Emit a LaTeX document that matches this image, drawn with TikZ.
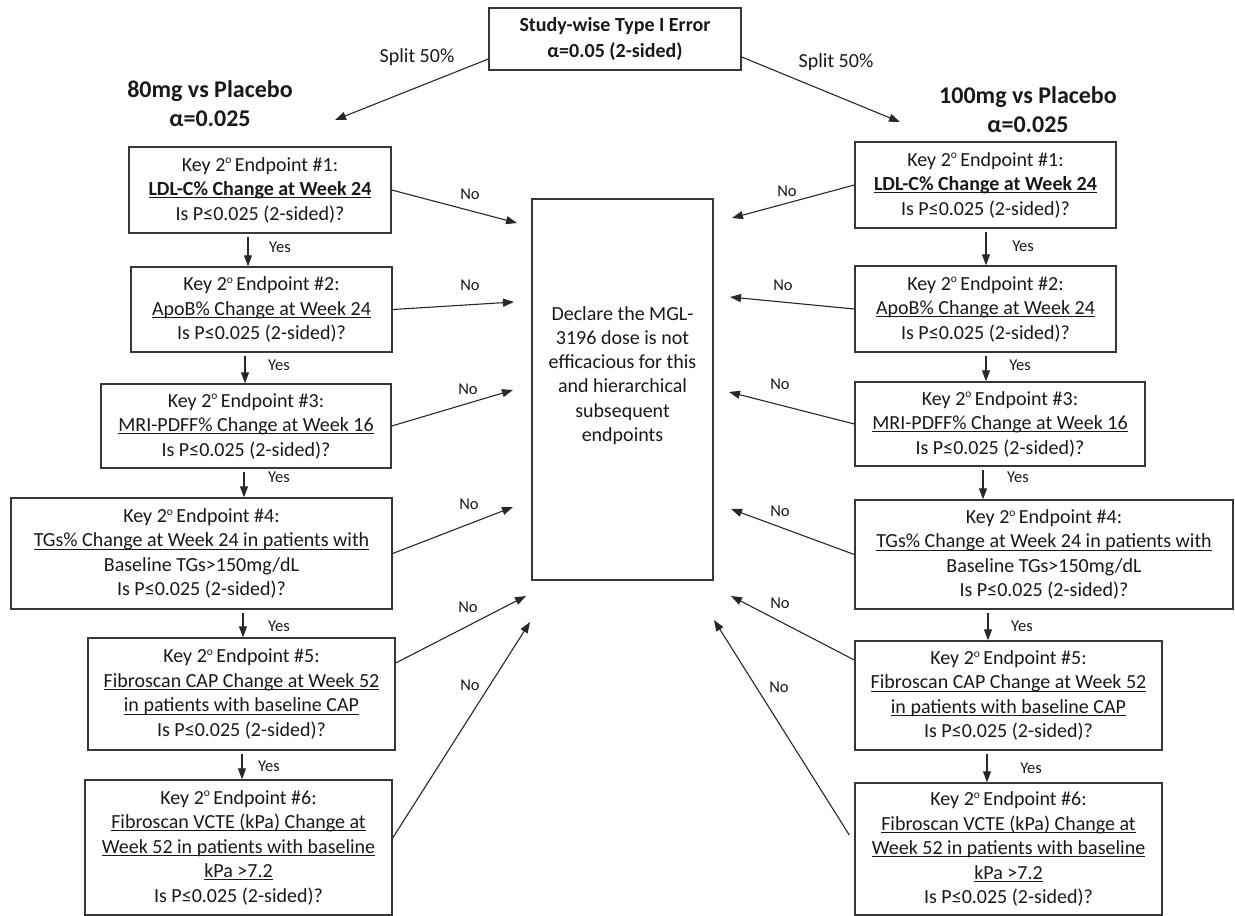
\documentclass[tikz,border=0pt]{standalone}
\usepackage{fontspec}
\setmainfont{Carlito}
\usetikzlibrary{arrows.meta,calc}
\definecolor{boxc}{RGB}{55,55,55}
\definecolor{txt}{RGB}{25,25,25}
\definecolor{arrc}{RGB}{40,40,40}
\tikzset{
  box/.style={draw=boxc, line width=1.4pt, align=center, inner sep=0pt, text=txt,
              font=\fontsize{20}{24.5}\selectfont},
  hdr/.style={align=center, inner sep=0pt, text=txt, font=\bfseries\fontsize{24}{29}\selectfont},
  lbl/.style={inner sep=0pt, text=txt, font=\fontsize{16.5}{19}\selectfont},
  split/.style={inner sep=0pt, text=txt, font=\fontsize{20}{24}\selectfont},
  arr/.style={draw=arrc, line width=1.1pt, -{Triangle[length=11pt,width=8pt]}},
}
\newcommand{\kk}[1]{Key 2\raisebox{7.2pt}{\fontsize{11.5}{11.5}\selectfont o}\,Endpoint \##1:}
\newcommand{\pq}{Is P≤0.025 (2-sided)?}
\newcommand{\ulx}[1]{\setbox0\hbox{#1}\rlap{\rule[-2.8pt]{\wd0}{1.1pt}}\box0}
\begin{document}
\begin{tikzpicture}[x=1pt,y=-1pt]
\useasboundingbox (0,0) rectangle (1235,916);

% top
\node[box, minimum width=252, minimum height=62, font=\bfseries\fontsize{20}{26}\selectfont] (top) at (615,39)
  {Study-wise Type I Error\\α=0.05 (2-sided)};
\node[split] (sl) at (417,57) {Split 50\%};
\node[split] (sr) at (836,62) {Split 50\%};
\node[hdr] (hl) at (210,104) {80mg vs Placebo\\α=0.025};
\node[hdr] (hr) at (1028,110) {100mg vs Placebo\\α=0.025};

% left column
\node[box, minimum width=262, minimum height=86] (L1) at (260,190)
  {\kk{1}\\\ulx{\textbf{LDL-C\% Change at Week 24}}\\\pq};
\node[box, minimum width=261, minimum height=85] (L2) at (261.5,309.5)
  {\kk{2}\\\ulx{ApoB\% Change at Week 24}\\\pq};
\node[box, minimum width=290, minimum height=84] (L3) at (246,426)
  {\kk{3}\\\ulx{MRI-PDFF\% Change at Week 16}\\\pq};
\node[box, minimum width=381, minimum height=111] (L4) at (201.5,553.5)
  {\kk{4}\\\ulx{TGs\% Change at Week 24 in patients with}\\Baseline TGs>150mg/dL\\\pq};
\node[box, minimum width=307, minimum height=112] (L5) at (241.5,694)
  {\kk{5}\\\ulx{Fibroscan CAP Change at Week 52}\\\ulx{in patients with baseline CAP}\\\pq};
\node[box, minimum width=307, minimum height=135] (L6) at (238.5,847.5)
  {\kk{6}\\\ulx{Fibroscan VCTE (kPa) Change at}\\\ulx{Week 52 in patients with baseline}\\\ulx{kPa >7.2}\\\pq};

% right column
\node[box, minimum width=261, minimum height=86] (R1) at (985.5,185)
  {\kk{1}\\\ulx{\textbf{LDL-C\% Change at Week 24}}\\\pq};
\node[box, minimum width=261, minimum height=86] (R2) at (985.5,309)
  {\kk{2}\\\ulx{ApoB\% Change at Week 24}\\\pq};
\node[box, minimum width=290, minimum height=84] (R3) at (1000,424)
  {\kk{3}\\\ulx{MRI-PDFF\% Change at Week 16}\\\pq};
\node[box, minimum width=378, minimum height=109] (R4) at (1044,554.5)
  {\kk{4}\\\ulx{TGs\% Change at Week 24 in patients with}\\Baseline TGs>150mg/dL\\\pq};
\node[box, minimum width=307, minimum height=109] (R5) at (1008.5,695.5)
  {\kk{5}\\\ulx{Fibroscan CAP Change at Week 52}\\\ulx{in patients with baseline CAP}\\\pq};
\node[box, minimum width=307, minimum height=132] (R6) at (1008.5,849)
  {\kk{6}\\\ulx{Fibroscan VCTE (kPa) Change at}\\\ulx{Week 52 in patients with baseline}\\\ulx{kPa >7.2}\\\pq};

% middle
\node[box, minimum width=181, minimum height=381] (mid) at (622.5,389.5) {};
\node[align=center, inner sep=0pt, text=txt, font=\fontsize{20}{24.3}\selectfont] (midt) at (622.5,375.5)
  {Declare the MGL-\\3196 dose is not\\efficacious for this\\and hierarchical\\subsequent\\endpoints};

% split arrows
\coordinate (tl) at (335,120);
\coordinate (tr) at (900,122);
\draw[arr] ([yshift=-20pt]top.west) -- (tl);
\draw[arr] ([yshift=-18pt]top.east) -- (tr);

% yes arrows
\coordinate (xa) at (248,0); \coordinate (xb) at (245,0); \coordinate (xc) at (244,0);
\coordinate (xd) at (243,0); \coordinate (xe) at (242,0);
\draw[arr] ([yshift=-3pt]L1.south -| xa) -- (L2.north -| xa);
\draw[arr] ([yshift=-3pt]L2.south -| xb) -- (L3.north -| xb);
\draw[arr] ([yshift=-3pt]L3.south -| xc) -- (L4.north -| xc);
\draw[arr] ([yshift=-3pt]L4.south -| xd) -- (L5.north -| xd);
\draw[arr] ([yshift=-3pt]L5.south -| xe) -- (L6.north -| xe);
\coordinate (ya) at (986,0); \coordinate (yb) at (986,0); \coordinate (yc) at (983,0);
\coordinate (yd) at (988,0); \coordinate (ye) at (987,0);
\draw[arr] ([yshift=-3pt]R1.south -| ya) -- (R2.north -| ya);
\draw[arr] ([yshift=-3pt]R2.south -| yb) -- (R3.north -| yb);
\draw[arr] ([yshift=-3pt]R3.south -| yc) -- (R4.north -| yc);
\draw[arr] ([yshift=-3pt]R4.south -| yd) -- (R5.north -| yd);
\draw[arr] ([yshift=-3pt]R5.south -| ye) -- (R6.north -| ye);

\node[lbl] (yl1) at (280,247) {Yes};
\node[lbl] (yl2) at (279,365) {Yes};
\node[lbl] (yl3) at (279,477) {Yes};
\node[lbl] (yl4) at (279,626) {Yes};
\node[lbl] (yl5) at (269,766) {Yes};
\node[lbl] (yr1) at (1023,246) {Yes};
\node[lbl] (yr2) at (1020,365) {Yes};
\node[lbl] (yr3) at (1018,477) {Yes};
\node[lbl] (yr4) at (1022,626) {Yes};
\node[lbl] (yr5) at (1031,768) {Yes};

% no arrows left
\coordinate (nl1) at (517,223);
\coordinate (nl2) at (514,302);
\coordinate (nl3) at (513,390);
\coordinate (nl4) at (513,507);
\coordinate (nl5) at (526,596);
\coordinate (nl6) at (530,622);
\draw[arr] (L1.east) -- (nl1);
\draw[arr] (L2.east) -- (nl2);
\draw[arr] (L3.east) -- (nl3);
\draw[arr] (L4.east) -- (nl4);
\draw[arr] ([yshift=31pt]L5.east) -- (nl5);
\draw[arr] ([yshift=9.5pt]L6.east) -- (nl6);
\node[lbl] (nol1) at (470,194) {No};
\node[lbl] (nol2) at (470,285) {No};
\node[lbl] (nol3) at (468,389) {No};
\node[lbl] (nol4) at (469,504) {No};
\node[lbl] (nol5) at (468,607) {No};
\node[lbl] (nol6) at (470,685) {No};

% no arrows right
\coordinate (nr1) at (732,218);
\coordinate (nr2) at (730,297);
\coordinate (nr3) at (729,392);
\coordinate (nr4) at (731,509);
\coordinate (nr5) at (731,596);
\coordinate (nr6) at (714,620);
\draw[arr] (R1.west) -- (nr1);
\draw[arr] (R2.west) -- (nr2);
\draw[arr] (R3.west) -- (nr3);
\draw[arr] (R4.west) -- (nr4);
\draw[arr] ([yshift=35.5pt]R5.west) -- (nr5);
\draw[arr] ([yshift=14pt,xshift=-5pt]R6.west) -- (nr6);
\node[lbl] (nor1) at (787,191) {No};
\node[lbl] (nor2) at (783,285) {No};
\node[lbl] (nor3) at (780,384) {No};
\node[lbl] (nor4) at (780,511) {No};
\node[lbl] (nor5) at (780,603) {No};
\node[lbl] (nor6) at (779,687) {No};
\end{tikzpicture}
\end{document}
